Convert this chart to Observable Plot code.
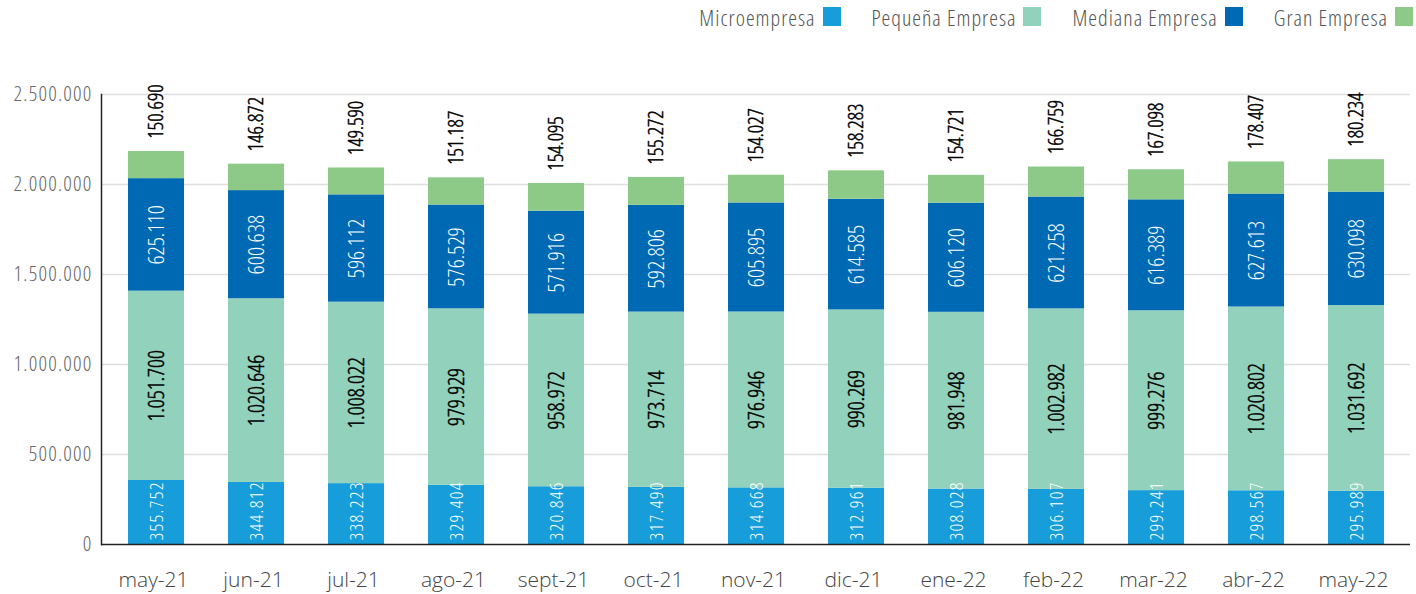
<!DOCTYPE html>
<html>
<head>
<meta charset="utf-8">
<script src="https://cdn.jsdelivr.net/npm/d3@7"></script>
<script src="https://cdn.jsdelivr.net/npm/@observablehq/plot@0.6"></script>
<style>
  html, body { margin: 0; padding: 0; background: #fff; }
  body { width: 1416px; font-family: "Open Sans", sans-serif; }
  #legend { height: 40px; display: flex; justify-content: flex-end; align-items: center; padding: 0 3px 7px 0; box-sizing: border-box; }
  .item { display: flex; align-items: center; margin-left: 31px; font-size: 22px; font-weight: 300; font-stretch: 75%; letter-spacing: 1px; color: #555; }
  .sw { width: 18px; height: 19px; margin-left: 7px; }
  #chart svg text { font-stretch: 75%; }
  #chart g[aria-label="y-axis tick label"] text { letter-spacing: 1.2px; }
  #chart g[aria-label="x-axis tick label"] text { font-stretch: 100%; }
  #chart .micro text { letter-spacing: 1.3px; }
</style>
</head>
<body>
<div id="legend"></div>
<div id="chart"></div>
<script>
const months = ["may-21","jun-21","jul-21","ago-21","sept-21","oct-21","nov-21","dic-21","ene-22","feb-22","mar-22","abr-22","may-22"];
const series = ["Microempresa","Pequeña Empresa","Mediana Empresa","Gran Empresa"];
const colors = ["#179dd9","#92d1bb","#0069b4","#8dca88"];
const micro   = [355752,344812,338223,329404,320846,317490,314668,312961,308028,306107,299241,298567,295989];
const pequena = [1051700,1020646,1008022,979929,958972,973714,976946,990269,981948,1002982,999276,1020802,1031692];
const mediana = [625110,600638,596112,576529,571916,592806,605895,614585,606120,621258,616389,627613,630098];
const gran    = [150690,146872,149590,151187,154095,155272,154027,158283,154721,166759,167098,178407,180234];
const yTicks  = [0,500000,1000000,1500000,2000000,2500000];

const values = [micro, pequena, mediana, gran];
const data = [];
series.forEach((s, i) => months.forEach((m, j) => data.push({month: m, series: s, value: values[i][j]})));
const totals = months.map((m, j) => ({month: m, total: micro[j] + pequena[j] + mediana[j] + gran[j], value: gran[j]}));

const fmt = d3.formatLocale({decimal: ",", thousands: ".", grouping: [3], currency: ["", ""]}).format(",d");

// legend
const lg = document.getElementById("legend");
series.forEach((s, i) => {
  const it = document.createElement("div");
  it.className = "item";
  it.innerHTML = `<span>${s}</span><span class="sw" style="background:${colors[i]}"></span>`;
  lg.appendChild(it);
});

const chart = Plot.plot({
  width: 1416,
  height: 554,
  marginTop: 54,
  marginBottom: 50,
  marginLeft: 101,
  marginRight: 6,
  style: {fontFamily: "'Open Sans', sans-serif", background: "#fff"},
  x: {domain: months, paddingInner: 0.44, paddingOuter: 0.25, label: null},
  y: {domain: [0, 2500000], label: null},
  color: {domain: series, range: colors},
  marks: [
    Plot.ruleY(yTicks.slice(1), {stroke: "#dedede", strokeWidth: 1.5}),
    Plot.axisY({ticks: yTicks, tickSize: 0, tickPadding: 9, tickFormat: fmt, fontSize: 21, fontWeight: 300, color: "#666", label: null}),
    Plot.axisX({tickSize: 0, tickPadding: 28, dx: -3, fontSize: 21, fontWeight: 300, color: "#444", label: null}),
    Plot.barY(data, {x: "month", y: "value", fill: "series", order: series}),
    Plot.text(data.filter(d => d.series === "Microempresa"), {
      x: "month", y: 0, text: d => fmt(d.value), rotate: -90, textAnchor: "start", dy: -4,
      fill: "white", fontSize: 19, fontWeight: 300, className: "micro"
    }),
    Plot.text(data, Plot.stackY({
      x: "month", y: "value", z: "series", order: series,
      text: d => d.series === "Pequeña Empresa" ? fmt(d.value) : null, rotate: -90,
      fill: "black", stroke: "black", strokeWidth: 0.5, fontSize: 22, fontWeight: 300
    })),
    Plot.text(data, Plot.stackY({
      x: "month", y: "value", z: "series", order: series,
      text: d => d.series === "Mediana Empresa" ? fmt(d.value) : null, rotate: -90,
      fill: "white", fontSize: 22.5, fontWeight: 300
    })),
    Plot.text(totals, {
      x: "month", y: "total", text: d => fmt(d.value), rotate: -90, textAnchor: "start", dy: -13,
      fill: "black", stroke: "black", strokeWidth: 0.5, fontSize: 20.5, fontWeight: 300
    }),
    Plot.ruleY([0], {stroke: "#222", strokeWidth: 1.5}),
    Plot.frame({anchor: "left", stroke: "#222", strokeWidth: 1.5})
  ]
});
document.getElementById("chart").appendChild(chart);
</script>
</body>
</html>
